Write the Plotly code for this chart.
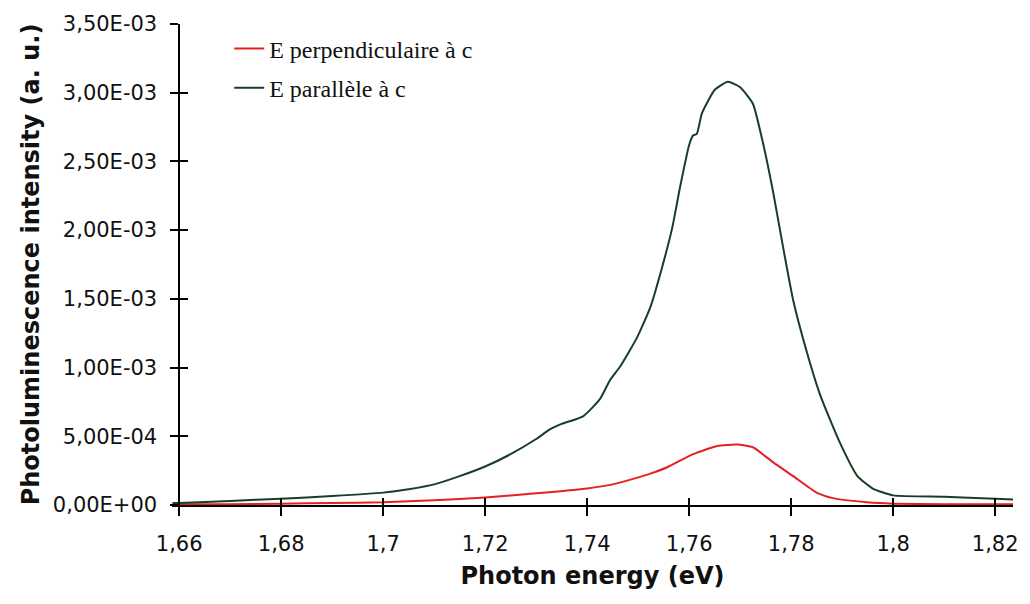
import plotly.graph_objects as go

# Photon energy (eV) and intensities (a.u.)
energy_perp = [1.6587, 1.67, 1.68, 1.69, 1.70, 1.71, 1.72, 1.73, 1.74, 1.745, 1.749,
               1.7525, 1.7557, 1.7608, 1.7655, 1.7694, 1.7725, 1.7765, 1.7804, 1.785,
               1.7882, 1.7949, 1.80, 1.81, 1.8235]
intens_perp = [0.005e-3, 0.005e-3, 0.010e-3, 0.015e-3, 0.020e-3, 0.035e-3, 0.055e-3, 0.085e-3,
               0.120e-3, 0.150e-3, 0.190e-3, 0.230e-3, 0.275e-3, 0.370e-3, 0.430e-3, 0.440e-3,
               0.420e-3, 0.310e-3, 0.210e-3, 0.090e-3, 0.050e-3, 0.020e-3, 0.010e-3, 0.005e-3,
               0.005e-3]

energy_par = [1.6587, 1.66, 1.67, 1.68, 1.69, 1.70, 1.705, 1.71, 1.715, 1.72, 1.725, 1.73,
              1.7327, 1.735, 1.7392, 1.7425, 1.7445, 1.7465, 1.7498, 1.7524, 1.7547, 1.7567,
              1.7582, 1.7600, 1.7608, 1.7615, 1.7625, 1.765, 1.7676, 1.770, 1.7725, 1.7745,
              1.7765, 1.7784, 1.7804, 1.7831, 1.7857, 1.7896, 1.793, 1.796, 1.80, 1.81, 1.82,
              1.8235]
intens_par = [0.015e-3, 0.015e-3, 0.030e-3, 0.045e-3, 0.065e-3, 0.090e-3, 0.115e-3, 0.150e-3,
              0.210e-3, 0.280e-3, 0.370e-3, 0.480e-3, 0.550e-3, 0.590e-3, 0.645e-3, 0.770e-3,
              0.910e-3, 1.010e-3, 1.220e-3, 1.440e-3, 1.730e-3, 2.020e-3, 2.310e-3, 2.620e-3,
              2.690e-3, 2.700e-3, 2.850e-3, 3.020e-3, 3.080e-3, 3.040e-3, 2.920e-3, 2.630e-3,
              2.270e-3, 1.880e-3, 1.490e-3, 1.110e-3, 0.800e-3, 0.450e-3, 0.210e-3, 0.120e-3,
              0.070e-3, 0.060e-3, 0.045e-3, 0.040e-3]

x_tickvals = [1.66, 1.68, 1.70, 1.72, 1.74, 1.76, 1.78, 1.80, 1.82]
x_ticktext = ["1,66", "1,68", "1,7", "1,72", "1,74", "1,76", "1,78", "1,8", "1,82"]
y_tickvals = [0, 0.5e-3, 1.0e-3, 1.5e-3, 2.0e-3, 2.5e-3, 3.0e-3, 3.5e-3]
y_ticktext = ["0,00E+00", "5,00E-04", "1,00E-03", "1,50E-03", "2,00E-03", "2,50E-03",
              "3,00E-03", "3,50E-03"]

x_range = [1.6586, 1.8235]
y_range = [0, 3.5e-3]
yaxis_pos = (1.66 - x_range[0]) / (x_range[1] - x_range[0])

tick_font = dict(family="DejaVu Sans, sans-serif", size=21, color="#111")
title_font = dict(family="DejaVu Sans, sans-serif", size=24, color="#111", weight="bold")

fig = go.Figure()
fig.add_trace(go.Scatter(x=energy_perp, y=intens_perp, mode="lines",
                         name="E perpendiculaire à c", legendgroup="a",
                         line=dict(color="#e3221f", width=2, shape="spline", smoothing=0.5),
                         xaxis="x", yaxis="y"))
fig.add_trace(go.Scatter(x=energy_par, y=intens_par, mode="lines",
                         name="E parallèle à c", legendgroup="b",
                         line=dict(color="#173f24", width=2, shape="spline", smoothing=0.5),
                         xaxis="x2", yaxis="y2"))

fig.update_layout(
    width=1022, height=596,
    margin=dict(l=164, r=17, t=16, b=99),
    plot_bgcolor="white", paper_bgcolor="white",
    showlegend=True,
    legend=dict(x=0.068, y=0.995, xanchor="left", yanchor="top",
                font=dict(family="Liberation Serif, Times New Roman, serif", size=24, color="#111"),
                bgcolor="rgba(0,0,0,0)", tracegroupgap=5),
    xaxis=dict(range=x_range, tickvals=x_tickvals, ticktext=x_ticktext,
               showline=True, linecolor="black", linewidth=1.5,
               ticks="outside", ticklen=9, tickwidth=1.5, tickcolor="black",
               showgrid=False, zeroline=False, tickfont=tick_font,
               ticklabelstandoff=10, automargin=False,
               title=dict(text="Photon energy (eV)", font=title_font, standoff=12),
               anchor="y"),
    xaxis2=dict(matches="x", overlaying="x", anchor="y2", side="bottom",
                tickvals=x_tickvals, showticklabels=False, automargin=False,
                ticks="inside", ticklen=7, tickwidth=1.5, tickcolor="black",
                showline=False, showgrid=False, zeroline=False),
    yaxis=dict(range=y_range, tickvals=y_tickvals, ticktext=y_ticktext,
               showline=True, linecolor="black", linewidth=1.5,
               ticks="outside", ticklen=8, tickwidth=1.5, tickcolor="black",
               showgrid=False, zeroline=False, tickfont=tick_font,
               ticklabelstandoff=9, automargin=False,
               anchor="free", position=yaxis_pos,
               title=dict(text="Photoluminescence intensity (a. u.)", font=title_font, standoff=5)),
    yaxis2=dict(matches="y", overlaying="y", anchor="free", position=yaxis_pos, side="left",
                tickvals=y_tickvals, showticklabels=False, automargin=False,
                ticks="inside", ticklen=8, tickwidth=1.5, tickcolor="black",
                showline=False, showgrid=False, zeroline=False),
)

fig.write_html("out.html")
